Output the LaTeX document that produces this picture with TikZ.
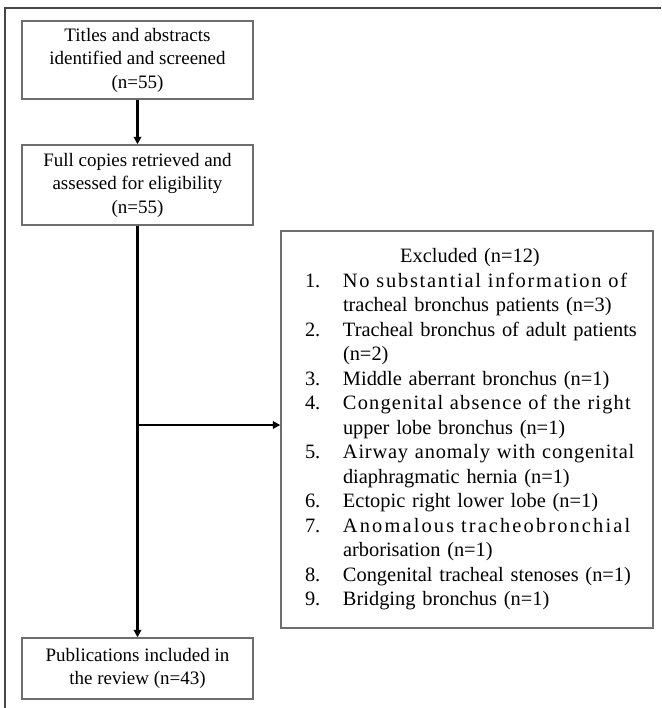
\documentclass[tikz,border=0pt]{standalone}
\usepackage{fontspec}
\setmainfont{Liberation Serif}
\usepackage{tikz}
\usetikzlibrary{shapes,arrows,arrows.meta}
\definecolor{boxGray}{RGB}{110,110,110}
\definecolor{frameGray}{RGB}{70,70,70}
\newcommand{\exitem}[2]{\hspace*{24pt}\makebox[38pt][l]{#1}#2}
\newcommand{\exmore}[1]{\hspace*{62pt}#1}
\newcommand{\spreadtext}[2]{\makebox[293pt][s]{\addfontfeature{LetterSpace=#1}#2}}

\begin{document}
\begin{tikzpicture}[x=1pt, y=-1pt]%
  \tikzset{normal arrow/.style={draw,-{Triangle[length=7.5pt,width=7.5pt]},line width=2.3pt,black}}
  \tikzstyle{every node}=[draw=boxGray, line width=1.4pt, rectangle, inner sep=0pt, align=center, text=black, font=\fontsize{19}{23.5}\selectfont]
  \tikzstyle{flow box}=[minimum width=231pt]

  \useasboundingbox (0,0) rectangle (661,708);
  \draw[frameGray, line width=2pt] (5,708) -- (5,8) -- (661,8);

  \node[flow box, minimum height=78pt] at (137.5,60) (screen) {Titles and abstracts\\ identified and screened\\ (n=55)};
  \node[flow box, minimum height=80pt] at (137.5,185) (full) {Full copies retrieved and\\ assessed for eligibility\\ (n=55)};
  \node[flow box, minimum height=61pt] at (137.5,668.5) (incl) {Publications included in\\ the review (n=43)};
  \node[minimum width=372pt, minimum height=397pt, text width=372pt, align=left, font=\fontsize{20.4}{24.5}\selectfont] at (467,429.5) (excl) {%
    \makebox[372pt]{\hspace*{6pt}Excluded (n=12)}\\
    \exitem{1.}{\spreadtext{8.5}{No substantial information of}}\\
    \exmore{tracheal bronchus patients (n=3)}\\
    \exitem{2.}{Tracheal bronchus of adult patients}\\
    \exmore{(n=2)}\\
    \exitem{3.}{Middle aberrant bronchus (n=1)}\\
    \exitem{4.}{\spreadtext{5.8}{Congenital absence of the right}}\\
    \exmore{upper lobe bronchus (n=1)}\\
    \exitem{5.}{\spreadtext{3.9}{Airway anomaly with congenital}}\\
    \exmore{diaphragmatic hernia (n=1)}\\
    \exitem{6.}{Ectopic right lower lobe (n=1)}\\
    \exitem{7.}{\spreadtext{10.5}{Anomalous tracheobronchial}}\\
    \exmore{arborisation (n=1)}\\
    \exitem{8.}{Congenital tracheal stenoses (n=1)}\\
    \exitem{9.}{Bridging bronchus (n=1)}};
  \coordinate (split) at (137.5,425);

  \path[normal arrow] (screen) -- (full);
  \path[normal arrow] (full) -- (incl);
  \path[normal arrow] (split) -- (split -| excl.west);
\end{tikzpicture}
\end{document}
